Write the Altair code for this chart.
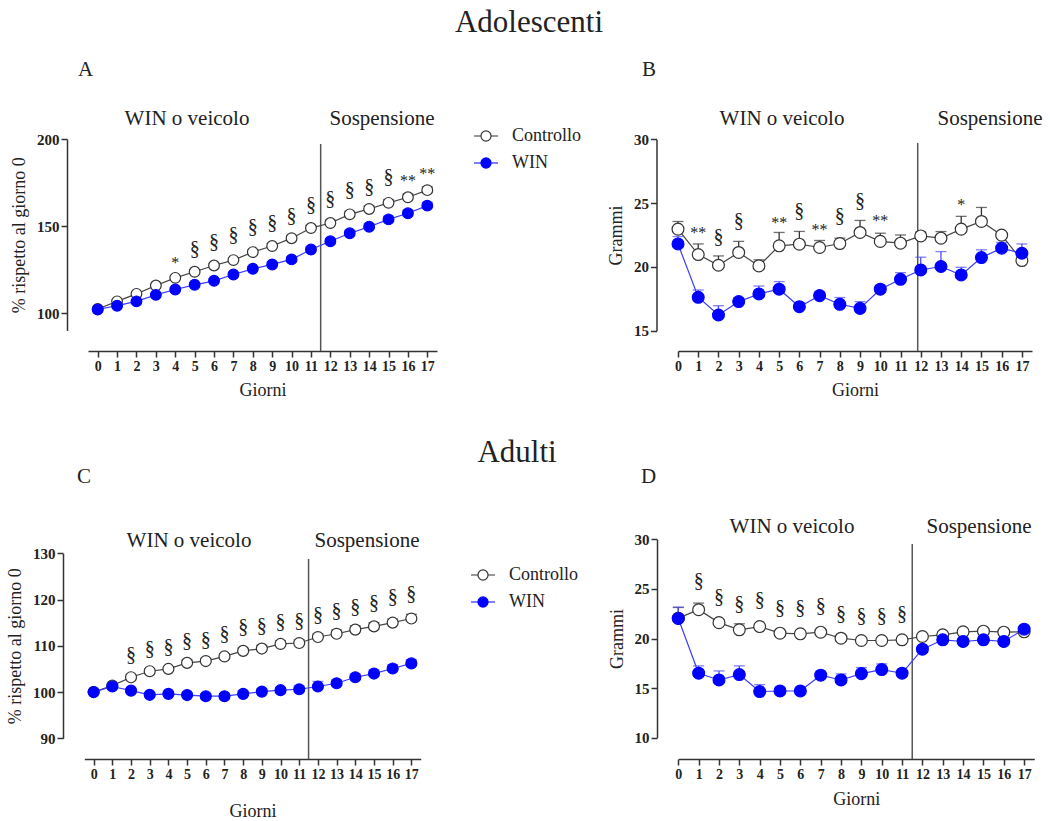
import altair as alt
import pandas as pd

FONT = "Liberation Serif"
DAYS = list(range(18))
SERIES = ["Controllo", "WIN"]

# ---------------- Panel A (Adolescenti, % rispetto al giorno 0)
A_CTRL = [102.3, 106.7, 111.0, 115.8, 120.2, 123.7, 127.3, 130.4, 135.0, 138.5,
          143.0, 148.8, 151.7, 156.7, 159.8, 163.3, 166.5, 170.6]
A_WIN = [102.0, 104.2, 106.7, 110.4, 113.5, 116.2, 118.5, 122.1, 125.4, 127.9,
         130.8, 136.5, 141.2, 145.8, 149.6, 153.8, 157.3, 161.7]
A_CTRL_SEM = [0.5, 0.8, 0.9, 1.0, 1.1, 1.2, 1.2, 1.3, 1.4, 1.4, 1.5, 1.6, 1.6, 1.7, 1.7, 1.8, 1.8, 1.9]
A_WIN_SEM = [0.5, 0.8, 0.9, 1.0, 1.1, 1.1, 1.2, 1.3, 1.3, 1.4, 1.5, 1.6, 1.6, 1.7, 1.7, 1.8, 1.8, 1.9]
A_ANN_DAYS = [4, 5, 6, 7, 8, 9, 10, 11, 12, 13, 14, 15, 16, 17]
A_ANN_TEXT = ["*", "§", "§", "§", "§", "§", "§", "§", "§", "§", "§", "§", "**", "**"]
A_ANN_Y = [130.8, 136.9, 140.8, 145.0, 149.6, 151.5, 155.8, 162.0, 165.8, 170.6,
           172.7, 177.9, 177.9, 182.3]

# ---------------- Panel B (Adolescenti, Grammi)
B_CTRL = [22.96, 20.97, 20.13, 21.13, 20.08, 21.65, 21.78, 21.52, 21.83, 22.70,
          22.00, 21.86, 22.43, 22.25, 22.96, 23.56, 22.49, 20.50]
B_WIN = [21.80, 17.62, 16.23, 17.28, 17.88, 18.25, 16.88, 17.75, 17.07, 16.75,
         18.25, 19.03, 19.76, 20.03, 19.37, 20.73, 21.47, 21.07]
B_CTRL_SEM = [0.60, 0.83, 0.73, 0.87, 0.47, 1.05, 1.00, 0.55, 0.42, 0.94,
              0.64, 0.64, 0.30, 0.52, 1.00, 1.10, 0.20, 0.30]
B_WIN_SEM = [0.58, 0.57, 0.73, 0.30, 0.62, 0.60, 0.30, 0.30, 0.53, 0.53,
             0.30, 0.52, 1.00, 1.17, 0.60, 0.61, 0.45, 0.73]
B_ANN_DAYS = [1, 2, 3, 5, 6, 7, 8, 9, 10, 14]
B_ANN_TEXT = ["**", "§", "§", "**", "§", "**", "§", "§", "**", "*"]
B_ANN_Y = [22.96, 22.33, 23.56, 23.74, 24.35, 23.17, 23.95, 25.20, 23.90, 25.20]

# ---------------- Panel C (Adulti, % rispetto al giorno 0)
C_CTRL = [100.0, 101.4, 103.2, 104.5, 105.0, 106.3, 106.7, 107.7, 108.9, 109.4,
          110.4, 110.6, 111.9, 112.6, 113.5, 114.2, 115.0, 115.9]
C_WIN = [100.0, 101.2, 100.3, 99.4, 99.6, 99.35, 99.1, 99.1, 99.6, 100.1,
         100.4, 100.6, 101.2, 101.9, 103.2, 104.0, 105.1, 106.2]
C_CTRL_SEM = [0.3, 0.4, 0.5, 0.5, 0.5, 0.6, 0.6, 0.6, 0.6, 0.7, 0.7, 0.7, 0.7, 0.8, 0.8, 0.8, 0.8, 0.9]
C_WIN_SEM = [0.3, 0.4, 0.4, 0.5, 0.5, 0.5, 0.5, 0.6, 0.6, 0.6, 0.6, 0.7, 1.1, 0.7, 0.7, 0.8, 0.8, 0.8]
C_ANN_DAYS = [2, 3, 4, 5, 6, 7, 8, 9, 10, 11, 12, 13, 14, 15, 16, 17]
C_ANN_TEXT = ["§"] * 16
C_ANN_Y = [108.1, 109.4, 109.8, 111.0, 111.2, 112.5, 114.0, 114.3, 115.1, 115.4,
           116.7, 117.5, 118.3, 119.3, 120.5, 121.1]

# ---------------- Panel D (Adulti, Grammi)
D_CTRL = [22.05, 22.90, 21.60, 20.88, 21.20, 20.54, 20.47, 20.64, 20.03, 19.80,
          19.80, 19.87, 20.20, 20.37, 20.67, 20.74, 20.64, 20.67]
D_WIN = [22.02, 16.50, 15.82, 16.36, 14.65, 14.71, 14.71, 16.30, 15.82, 16.46,
         16.87, 16.50, 18.92, 19.87, 19.70, 19.87, 19.70, 20.94]
D_CTRL_SEM = [1.08, 0.67, 0.30, 0.60, 0.20, 0.20, 0.20, 0.20, 0.20, 0.20,
              0.20, 0.20, 0.20, 0.20, 0.20, 0.20, 0.20, 0.20]
D_WIN_SEM = [1.14, 0.74, 0.91, 0.88, 0.70, 0.30, 0.30, 0.40, 0.61, 0.61,
             0.57, 0.30, 0.30, 0.30, 0.30, 0.30, 0.30, 0.30]
D_ANN_DAYS = [1, 2, 3, 4, 5, 6, 7, 8, 9, 10, 11]
D_ANN_TEXT = ["§"] * 11
D_ANN_Y = [25.76, 24.17, 23.47, 23.84, 23.03, 23.03, 23.23, 22.49, 22.29, 22.22, 22.46]

# ---------------- layout (pixel geometry of each panel)
GEO = {
    "A": dict(xdom=[-0.5, 17.5], xr=[88, 437], ydom=[90, 200], yr=[330.4, 139],
              yticks=[100, 150, 200], xoff=-470, yoff=-67, ytitle="% rispetto al giorno 0",
              sep=11.5, sep_top=144, sep_bot=351, xtp=8, size=115),
    "B": dict(xdom=[0, 17.5], xr=[678, 1032], ydom=[15, 30], yr=[330.7, 139.3],
              yticks=[15, 20, 25, 30], xoff=-470, yoff=-656.5, ytitle="Grammi",
              sep=11.85, sep_top=143, sep_bot=351, xtp=8, size=140),
    "C": dict(xdom=[-0.5, 17.5], xr=[84.3, 420.7], ydom=[90, 130], yr=[738.3, 553.3],
              yticks=[90, 100, 110, 120, 130], xoff=-62, yoff=-63, ytitle="% rispetto al giorno 0",
              sep=11.5, sep_top=559, sep_bot=759, xtp=21, size=120),
    "D": dict(xdom=[0, 17.5], xr=[678.3, 1034.3], ydom=[10, 30], yr=[737.7, 539.3],
              yticks=[10, 15, 20, 25, 30], xoff=-62, yoff=-657, ytitle="Grammi",
              sep=11.5, sep_top=544, sep_bot=759, xtp=9, size=140),
}

FILL_SCALE = alt.Scale(domain=SERIES, range=["#ffffff", "#0000ff"])
PSTROKE_SCALE = alt.Scale(domain=SERIES, range=["#333333", "#0000ff"])
LSTROKE_SCALE = alt.Scale(domain=SERIES, range=["#444444", "#3b3bff"])
ESTROKE_SCALE = alt.Scale(domain=SERIES, range=["#333333", "#4a4aff"])

LEGEND_PATH = ("M-1,0H-0.42M0.42,0H1M-0.42,0A0.42,0.42 0 1,1 0.42,0"
               "A0.42,0.42 0 1,1 -0.42,0Z")


def make_df(ctrl, win, csem, wsem):
    rows = []
    for s, vals, sems in (("Controllo", ctrl, csem), ("WIN", win, wsem)):
        for d, v, e in zip(DAYS, vals, sems):
            rows.append({"day": d, "series": s, "value": v, "upper": v + e})
    return pd.DataFrame(rows)


def panel(key, df, ann_days, ann_text, ann_y, legend_xy=None):
    g = GEO[key]
    xs = alt.Scale(domain=g["xdom"], range=g["xr"], nice=False, zero=False)
    ys = alt.Scale(domain=g["ydom"], range=g["yr"], nice=False, zero=False)
    X = alt.X("day:Q", scale=xs, axis=None)
    Y = alt.Y("value:Q", scale=ys, axis=None)

    x_axis = alt.Axis(orient="bottom", values=DAYS, title="Giorni", offset=g["xoff"],
                      titlePadding=g["xtp"], labelFlush=False, labelOverlap=False,
                      format="d", grid=False, labelFontSize=14)
    y_axis = alt.Axis(orient="left", values=g["yticks"], title=g["ytitle"], offset=g["yoff"],
                      titlePadding=8, labelFlush=False, labelOverlap=False, format="d",
                      grid=False, labelFontSize=15)

    sep = alt.Chart(pd.DataFrame({"s": [g["sep"]]})).mark_rule(
        color="#555555", strokeWidth=1.5).encode(
        x=alt.X("s:Q", scale=xs, axis=None),
        y=alt.value(g["sep_top"]), y2=alt.value(g["sep_bot"]))

    err_rule = alt.Chart(df).mark_rule(strokeWidth=1.3).encode(
        x=X, y=Y, y2="upper:Q",
        stroke=alt.Stroke("series:N", scale=ESTROKE_SCALE, legend=None))
    err_cap = alt.Chart(df).mark_tick(orient="horizontal", size=11, thickness=1.3).encode(
        x=X, y=alt.Y("upper:Q", scale=ys, axis=None),
        color=alt.Color("series:N", scale=ESTROKE_SCALE, legend=None))

    line = alt.Chart(df).mark_line(strokeWidth=1.2).encode(
        x=alt.X("day:Q", scale=xs, axis=x_axis),
        y=alt.Y("value:Q", scale=ys, axis=y_axis),
        stroke=alt.Stroke("series:N", scale=LSTROKE_SCALE, legend=None))

    if legend_xy is not None:
        leg = alt.Legend(orient="none", legendX=legend_xy[0], legendY=legend_xy[1], title=None,
                         symbolType=LEGEND_PATH, symbolSize=576, symbolStrokeWidth=1.2,
                         labelFont=FONT, labelFontSize=18, labelColor="#222222",
                         labelOffset=13, rowPadding=5, padding=0)
    else:
        leg = None
    pts = alt.Chart(df).mark_point(filled=True, shape="circle", size=g["size"],
                                   strokeWidth=1.2, opacity=1).encode(
        x=X, y=Y,
        fill=alt.Fill("series:N", scale=FILL_SCALE, legend=leg),
        stroke=alt.Stroke("series:N", scale=PSTROKE_SCALE, legend=leg))

    ann = pd.DataFrame({"day": ann_days, "t": ann_text, "value": ann_y})
    sect = alt.Chart(ann[ann.t == "§"]).mark_text(
        font=FONT, fontSize=20, baseline="middle", color="#222222").encode(x=X, y=Y, text="t:N")
    star = alt.Chart(ann[ann.t != "§"]).mark_text(
        font=FONT, fontSize=16, baseline="middle", dy=4, color="#222222").encode(x=X, y=Y, text="t:N")

    return [sep, err_rule, err_cap, line, pts, sect, star]


def label(text, x, y, size, align="center"):
    return alt.Chart(pd.DataFrame({"t": [text]})).mark_text(
        font=FONT, fontSize=size, align=align, baseline="alphabetic", color="#222222").encode(
        x=alt.value(x), y=alt.value(y), text="t:N")


layers = []
layers += panel("A", make_df(A_CTRL, A_WIN, A_CTRL_SEM, A_WIN_SEM), A_ANN_DAYS, A_ANN_TEXT, A_ANN_Y,
                legend_xy=(473, 123))
layers += panel("B", make_df(B_CTRL, B_WIN, B_CTRL_SEM, B_WIN_SEM), B_ANN_DAYS, B_ANN_TEXT, B_ANN_Y)
layers += panel("C", make_df(C_CTRL, C_WIN, C_CTRL_SEM, C_WIN_SEM), C_ANN_DAYS, C_ANN_TEXT, C_ANN_Y,
                legend_xy=(470, 562))
layers += panel("D", make_df(D_CTRL, D_WIN, D_CTRL_SEM, D_WIN_SEM), D_ANN_DAYS, D_ANN_TEXT, D_ANN_Y)

layers += [
    label("Adolescenti", 529, 32, 31),
    label("Adulti", 517, 462, 31),
    label("A", 78, 76, 21, "left"),
    label("B", 642, 76, 21, "left"),
    label("C", 77, 483, 21, "left"),
    label("D", 641, 483, 21, "left"),
    label("WIN o veicolo", 187, 125, 21),
    label("Sospensione", 382, 125, 21),
    label("WIN o veicolo", 782, 125, 21),
    label("Sospensione", 990, 125, 21),
    label("WIN o veicolo", 189, 547, 21),
    label("Sospensione", 367, 547, 21),
    label("WIN o veicolo", 792, 533, 21),
    label("Sospensione", 979, 533, 21),
]

chart = alt.layer(*layers).resolve_scale(
    x="independent", y="independent", fill="independent", stroke="independent",
    color="independent"
).properties(
    width=1050, height=821, autosize=alt.AutoSizeParams(type="none"), padding=0,
    background="white"
).configure_view(strokeWidth=0).configure_axis(
    domainColor="#333333", domainWidth=1.5, tickColor="#333333", tickWidth=1.5, tickSize=6,
    labelFont=FONT, labelFontSize=14, labelFontWeight="bold", labelColor="#222222", labelPadding=2,
    titleFont=FONT, titleFontSize=18, titleFontWeight="normal", titleColor="#222222"
)

chart.save("out.html", embed_options={"renderer": "svg", "actions": False})
